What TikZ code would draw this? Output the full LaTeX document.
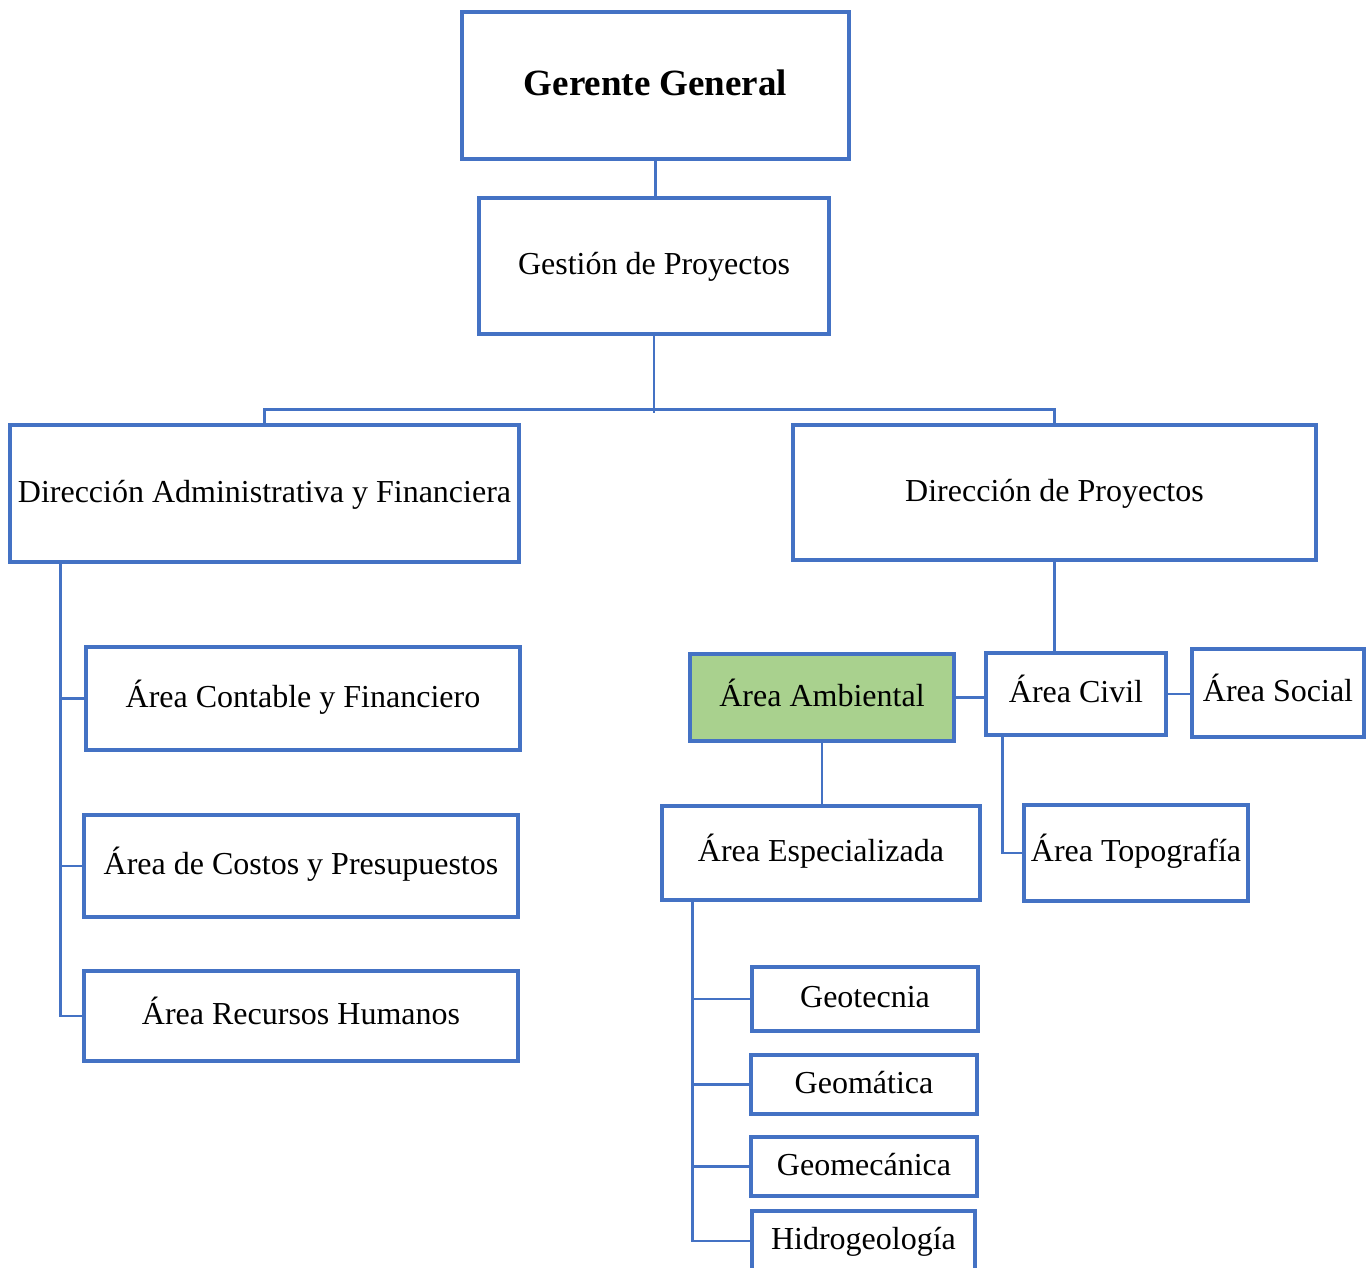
\documentclass[tikz,border=0pt]{standalone}
\usepackage{fontspec}
\setmainfont{Liberation Serif}
\definecolor{BoxClr}{HTML}{4472C4}
\definecolor{AmbClr}{HTML}{A9D18E}

\begin{document}
\begin{tikzpicture}[x=1pt,y=-1pt,
  box/.style={draw=BoxClr,line width=3.5pt,fill=white,inner sep=0pt,
    font=\fontsize{32}{38}\selectfont,text height=24.6pt,text depth=7.4pt},
  link/.style={draw=BoxClr,line width=2.8pt}]
\useasboundingbox (0,0) rectangle (1370,1267);
\clip (0,0) rectangle (1370,1267);

% top levels
\node[box,minimum width=387pt,minimum height=147pt,text height=28.5pt,text depth=8.5pt,
  font=\fontsize{37}{44}\selectfont\bfseries] (gerente) at (655.5,85.5) {Gerente General};
\node[box,minimum width=350pt,minimum height=136pt] (gestion) at (654,266) {Gestión de Proyectos};

\node[box,minimum width=509pt,minimum height=137pt] (diradm) at (264.5,493.5) {Dirección Administrativa y Financiera};
\node[box,minimum width=523pt,minimum height=135pt] (dirproy) at (1054.5,492.5) {Dirección de Proyectos};

% left branch
\node[box,minimum width=434pt,minimum height=103pt] (contable) at (303,698.5) {Área Contable y Financiero};
\node[box,minimum width=434pt,minimum height=102pt] (costos) at (301,866) {Área de Costos y Presupuestos};
\node[box,minimum width=434pt,minimum height=90pt] (recursos) at (301,1016) {Área Recursos Humanos};

% right branch
\node[box,fill=AmbClr,minimum width=264pt,minimum height=87pt] (ambiental) at (822,697.5) {Área Ambiental};
\node[box,minimum width=180pt,minimum height=82pt] (civil) at (1076,694) {Área Civil};
\node[box,minimum width=172pt,minimum height=88pt] (social) at (1278,693) {Área Social};
\node[box,minimum width=224pt,minimum height=96pt] (topo) at (1136,853) {Área Topografía};
\node[box,minimum width=318pt,minimum height=94pt] (especial) at (821,853) {Área Especializada};

\node[box,minimum width=226pt,minimum height=64pt] (geotec) at (865,999) {Geotecnia};
\node[box,minimum width=226pt,minimum height=59pt] (geomat) at (864,1084.5) {Geomática};
\node[box,minimum width=226pt,minimum height=59pt] (geomec) at (864,1166.5) {Geomecánica};
\node[box,minimum width=223pt,minimum height=60pt] (hidro) at (863.5,1241) {Hidrogeología};

% connectors
\draw[link] (gerente.south) -- (gerente.south |- gestion.north);
\draw[link] (gestion.south) -- ++(0,77);
\draw[link] (diradm.north) -- ++(0,-14) -| (dirproy.north);

\draw[link] ([xshift=52pt]diradm.south west) |- (contable.west);
\draw[link] ([xshift=52pt]diradm.south west) |- (costos.west);
\draw[link] ([xshift=52pt]diradm.south west) |- (recursos.west);

\draw[link] (dirproy.south) -- (dirproy.south |- civil.north);
\draw[link] (ambiental.east) -- (ambiental.east -| civil.west);
\draw[link] (civil.east) -- (civil.east -| social.west);
\draw[link] ([xshift=18pt]civil.south west) |- (topo.west);
\draw[link] (ambiental.south) -- (ambiental.south |- especial.north);

\draw[link] ([xshift=32pt]especial.south west) |- (geotec.west);
\draw[link] ([xshift=32pt]especial.south west) |- (geomat.west);
\draw[link] ([xshift=32pt]especial.south west) |- (geomec.west);
\draw[link] ([xshift=32pt]especial.south west) |- (hidro.west);
\end{tikzpicture}
\end{document}
